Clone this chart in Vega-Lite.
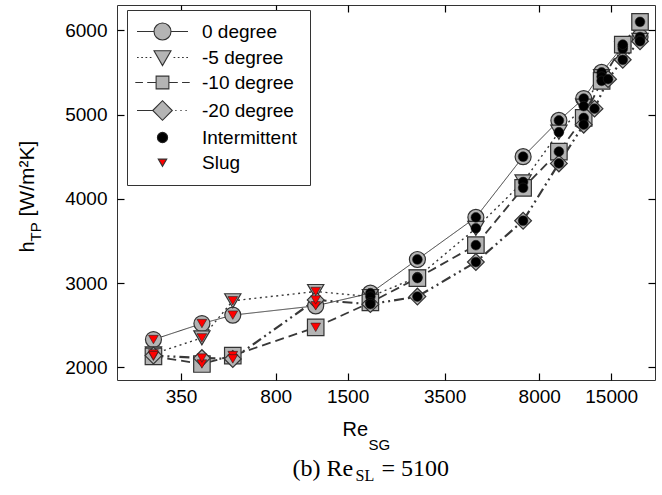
{
  "$schema": "https://vega.github.io/schema/vega-lite/v6.json",
  "width": 538,
  "height": 375,
  "autosize": {"type": "none"},
  "padding": {"left": 117, "top": 5, "right": 7, "bottom": 115},
  "background": "white",
  "config": {
    "view": {"stroke": "#333333", "strokeWidth": 1},
    "font": "Liberation Sans",
    "axis": {
      "grid": false,
      "domain": false,
      "ticks": true,
      "tickColor": "#000000",
      "tickWidth": 1.2,
      "tickSize": 7,
      "tickOpacity": 1,
      "labelFont": "Liberation Sans",
      "labelFontSize": 19,
      "labelColor": "black",
      "titleFont": "Liberation Sans",
      "titleFontSize": 20,
      "titleFontWeight": "normal",
      "titleColor": "black",
      "titleAlign": "left",
      "titleBaseline": "alphabetic",
      "zindex": 1
    }
  },
  "data": {
    "values": [
      {"angle": "0 degree", "re": 275, "h": 2330, "pattern": "Slug"},
      {"angle": "0 degree", "re": 420, "h": 2520, "pattern": "Slug"},
      {"angle": "0 degree", "re": 550, "h": 2620, "pattern": "Slug"},
      {"angle": "0 degree", "re": 1135, "h": 2730, "pattern": "Slug"},
      {"angle": "0 degree", "re": 1830, "h": 2880, "pattern": "Intermittent"},
      {"angle": "0 degree", "re": 2760, "h": 3280, "pattern": "Intermittent"},
      {"angle": "0 degree", "re": 4600, "h": 3780, "pattern": "Intermittent"},
      {"angle": "0 degree", "re": 6950, "h": 4500, "pattern": "Intermittent"},
      {"angle": "0 degree", "re": 9500, "h": 4930, "pattern": "Intermittent"},
      {"angle": "0 degree", "re": 11800, "h": 5190, "pattern": "Intermittent"},
      {"angle": "0 degree", "re": 13800, "h": 5500, "pattern": "Intermittent"},
      {"angle": "0 degree", "re": 16600, "h": 5810, "pattern": "Intermittent"},
      {"angle": "0 degree", "re": 19300, "h": 5920, "pattern": "Intermittent"},

      {"angle": "-5 degree", "re": 275, "h": 2160, "pattern": "Slug"},
      {"angle": "-5 degree", "re": 420, "h": 2350, "pattern": "Slug"},
      {"angle": "-5 degree", "re": 550, "h": 2790, "pattern": "Slug"},
      {"angle": "-5 degree", "re": 1135, "h": 2900, "pattern": "Slug"},
      {"angle": "-5 degree", "re": 1830, "h": 2840, "pattern": "Intermittent"},
      {"angle": "-5 degree", "re": 2760, "h": 3070, "pattern": "Intermittent"},
      {"angle": "-5 degree", "re": 4600, "h": 3650, "pattern": "Intermittent"},
      {"angle": "-5 degree", "re": 6950, "h": 4200, "pattern": "Intermittent"},
      {"angle": "-5 degree", "re": 9500, "h": 4790, "pattern": "Intermittent"},
      {"angle": "-5 degree", "re": 11800, "h": 5100, "pattern": "Intermittent"},
      {"angle": "-5 degree", "re": 13800, "h": 5450, "pattern": "Intermittent"},
      {"angle": "-5 degree", "re": 16600, "h": 5780, "pattern": "Intermittent"},
      {"angle": "-5 degree", "re": 19300, "h": 5880, "pattern": "Intermittent"},

      {"angle": "-10 degree", "re": 275, "h": 2130, "pattern": "Slug"},
      {"angle": "-10 degree", "re": 420, "h": 2040, "pattern": "Slug"},
      {"angle": "-10 degree", "re": 550, "h": 2140, "pattern": "Slug"},
      {"angle": "-10 degree", "re": 1135, "h": 2475, "pattern": "Slug"},
      {"angle": "-10 degree", "re": 1830, "h": 2770, "pattern": "Intermittent"},
      {"angle": "-10 degree", "re": 2760, "h": 3060, "pattern": "Intermittent"},
      {"angle": "-10 degree", "re": 4600, "h": 3450, "pattern": "Intermittent"},
      {"angle": "-10 degree", "re": 6950, "h": 4130, "pattern": "Intermittent"},
      {"angle": "-10 degree", "re": 9500, "h": 4560, "pattern": "Intermittent"},
      {"angle": "-10 degree", "re": 11800, "h": 4960, "pattern": "Intermittent"},
      {"angle": "-10 degree", "re": 13800, "h": 5400, "pattern": "Intermittent"},
      {"angle": "-10 degree", "re": 16600, "h": 5830, "pattern": "Intermittent"},
      {"angle": "-10 degree", "re": 19300, "h": 6100, "pattern": "Intermittent"},

      {"angle": "-20 degree", "re": 275, "h": 2140, "pattern": "Slug"},
      {"angle": "-20 degree", "re": 420, "h": 2110, "pattern": "Slug"},
      {"angle": "-20 degree", "re": 550, "h": 2100, "pattern": "Slug"},
      {"angle": "-20 degree", "re": 1135, "h": 2800, "pattern": "Slug"},
      {"angle": "-20 degree", "re": 1830, "h": 2750, "pattern": "Intermittent"},
      {"angle": "-20 degree", "re": 2760, "h": 2840, "pattern": "Intermittent"},
      {"angle": "-20 degree", "re": 4600, "h": 3250, "pattern": "Intermittent"},
      {"angle": "-20 degree", "re": 6950, "h": 3740, "pattern": "Intermittent"},
      {"angle": "-20 degree", "re": 9500, "h": 4420, "pattern": "Intermittent"},
      {"angle": "-20 degree", "re": 11800, "h": 4880, "pattern": "Intermittent"},
      {"angle": "-20 degree", "re": 12970, "h": 5070, "pattern": "Intermittent"},
      {"angle": "-20 degree", "re": 14600, "h": 5420, "pattern": "Intermittent"},
      {"angle": "-20 degree", "re": 16600, "h": 5650, "pattern": "Intermittent"},
      {"angle": "-20 degree", "re": 19300, "h": 5870, "pattern": "Intermittent"}
    ]
  },
  "layer": [
    {
      "mark": {"type": "line", "color": "#383838"},
      "encoding": {
        "x": {
          "field": "re", "type": "quantitative",
          "scale": {"type": "log", "domain": [200, 22000], "nice": false},
          "axis": {"orient": "bottom", "offset": -7, "values": [350, 800, 1500, 3500, 8000, 15000], "format": "d", "labelPadding": 7, "title": "Re", "titleX": 225, "titleY": 62, "titleAngle": 0}
        },
        "y": {
          "field": "h", "type": "quantitative",
          "scale": {"domain": [1850, 6300], "nice": false, "zero": false},
          "axis": {"orient": "left", "offset": -7, "values": [2000, 3000, 4000, 5000, 6000], "format": "d", "labelPadding": 10, "title": "h", "titleX": -91, "titleY": 247, "titleAngle": 270}
        },
        "strokeDash": {
          "field": "angle", "type": "nominal",
          "scale": {"domain": ["0 degree", "-5 degree", "-10 degree", "-20 degree"], "range": [[1, 0], [2, 3.5], [9, 5], [10, 4, 2, 4, 2, 4]]},
          "legend": null
        },
        "strokeWidth": {
          "field": "angle", "type": "ordinal",
          "scale": {"domain": ["0 degree", "-5 degree", "-10 degree", "-20 degree"], "range": [1, 2.2, 1, 1]},
          "legend": null
        }
      }
    },
    {
      "mark": {"type": "point", "filled": true, "fill": "#b4b4b4", "stroke": "#333333", "strokeWidth": 1.2, "opacity": 1},
      "encoding": {
        "x": {"field": "re", "type": "quantitative", "axis": null},
        "y": {"field": "h", "type": "quantitative", "axis": null},
        "shape": {
          "field": "angle", "type": "nominal",
          "scale": {"domain": ["0 degree", "-5 degree", "-10 degree", "-20 degree"], "range": ["circle", "triangle-down", "square", "diamond"]},
          "legend": null
        },
        "size": {
          "field": "angle", "type": "ordinal",
          "scale": {"domain": ["0 degree", "-5 degree", "-10 degree", "-20 degree"], "range": [256, 280, 225, 340]},
          "legend": null
        }
      }
    },
    {
      "mark": {"type": "point", "filled": true, "size": 95, "stroke": "#222222", "strokeWidth": 0.6, "opacity": 1},
      "encoding": {
        "x": {"field": "re", "type": "quantitative", "axis": null},
        "y": {"field": "h", "type": "quantitative", "axis": null},
        "shape": {
          "field": "pattern", "type": "nominal",
          "scale": {"domain": ["Intermittent", "Slug"], "range": ["circle", "triangle-down"]},
          "legend": null
        },
        "fill": {
          "field": "pattern", "type": "nominal",
          "scale": {"domain": ["Intermittent", "Slug"], "range": ["#000000", "#ff0000"]},
          "legend": null
        }
      }
    },
    {
      "transform": [{"filter": "false"}],
      "mark": {"type": "point", "filled": true, "strokeWidth": 1.1, "opacity": 1},
      "encoding": {
        "x": {
          "field": "re", "type": "quantitative",
          "axis": {"orient": "top", "offset": -7, "values": [350, 800, 1500, 3500, 8000, 15000], "labels": false, "title": null}
        },
        "y": {
          "field": "h", "type": "quantitative",
          "axis": {"orient": "right", "offset": -7, "values": [2000, 3000, 4000, 5000, 6000], "labels": false, "title": null}
        },
        "shape": {
          "field": "angle", "type": "nominal",
          "scale": {
            "domain": ["0 degree", "-5 degree", "-10 degree", "-20 degree", "Intermittent", "Slug"],
            "range": [
              "M-3,0L-1,0M1,0L3,0M1,0A1,1,0,1,1,-1,0A1,1,0,1,1,1,0Z",
              "M-3,0L-2.8,0M-2.5,0L-2.3,0M-2,0L-1.8,0M-1.5,0L-1.3,0M1.3,0L1.5,0M1.8,0L2,0M2.3,0L2.5,0M2.8,0L3,0M-1,-0.8L1,-0.8L0,0.95Z",
              "M-3.2,0L-2.3,0M-1.8,0L-0.75,0M0.75,0L1.8,0M2.3,0L3.2,0M-0.75,-0.75L0.75,-0.75L0.75,0.75L-0.75,0.75Z",
              "M-3,0L-1.15,0M1.5,0L1.65,0M2.1,0L2.25,0M2.7,0L2.85,0M-1.15,0L0,-1.15L1.15,0L0,1.15Z",
              "M0.6,0A0.6,0.6,0,1,1,-0.6,0A0.6,0.6,0,1,1,0.6,0Z",
              "M-0.5,-0.4L0.5,-0.4L0,0.45Z"
            ]
          },
          "legend": {
            "title": null, "orient": "none", "legendX": 10, "legendY": 5,
            "symbolSize": 289, "symbolStrokeWidth": 1.1,
            "symbolOffset": 14, "labelOffset": 30, "padding": 12, "rowPadding": 5,
            "strokeColor": "#333333", "fillColor": "white",
            "labelFont": "Liberation Sans", "labelFontSize": 19, "labelColor": "black"
          }
        },
        "fill": {
          "field": "angle", "type": "nominal",
          "scale": {
            "domain": ["0 degree", "-5 degree", "-10 degree", "-20 degree", "Intermittent", "Slug"],
            "range": ["#b4b4b4", "#b4b4b4", "#b4b4b4", "#b4b4b4", "#000000", "#ff0000"]
          },
          "legend": {
            "title": null, "orient": "none", "legendX": 10, "legendY": 5,
            "symbolSize": 289, "symbolStrokeWidth": 1.1,
            "symbolOffset": 14, "labelOffset": 30, "padding": 12, "rowPadding": 5,
            "strokeColor": "#333333", "fillColor": "white",
            "labelFont": "Liberation Sans", "labelFontSize": 19, "labelColor": "black"
          }
        },
        "stroke": {
          "field": "angle", "type": "nominal",
          "scale": {
            "domain": ["0 degree", "-5 degree", "-10 degree", "-20 degree", "Intermittent", "Slug"],
            "range": ["#333333", "#333333", "#333333", "#333333", "#222222", "#333333"]
          },
          "legend": {
            "title": null, "orient": "none", "legendX": 10, "legendY": 5,
            "symbolSize": 289, "symbolStrokeWidth": 1.1,
            "symbolOffset": 14, "labelOffset": 30, "padding": 12, "rowPadding": 5,
            "strokeColor": "#333333", "fillColor": "white",
            "labelFont": "Liberation Sans", "labelFontSize": 19, "labelColor": "black"
          }
        }
      }
    },
    {
      "transform": [{"filter": "false"}],
      "mark": {"type": "point"},
      "encoding": {
        "x": {
          "field": "re", "type": "quantitative",
          "axis": {"orient": "bottom", "ticks": false, "labels": false, "title": "SG", "titleFontSize": 15, "titleX": 251, "titleY": 69, "titleAngle": 0}
        },
        "y": {
          "field": "h", "type": "quantitative",
          "axis": {"orient": "left", "ticks": false, "labels": false, "title": "TP", "titleFontSize": 15, "titleX": -77, "titleY": 236, "titleAngle": 270}
        }
      }
    },
    {
      "transform": [{"filter": "false"}],
      "mark": {"type": "point"},
      "encoding": {
        "x": {
          "field": "re", "type": "quantitative",
          "axis": {"orient": "bottom", "ticks": false, "labels": false, "title": "(b) Re", "titleFont": "Liberation Serif", "titleFontSize": 24, "titleX": 175, "titleY": 95, "titleAngle": 0}
        },
        "y": {
          "field": "h", "type": "quantitative",
          "axis": {"orient": "left", "ticks": false, "labels": false, "title": "[W/m²K]", "titleFontSize": 21, "titleX": -84, "titleY": 211, "titleAngle": 270}
        }
      }
    },
    {
      "transform": [{"filter": "false"}],
      "mark": {"type": "point"},
      "encoding": {
        "x": {
          "field": "re", "type": "quantitative",
          "axis": {"orient": "bottom", "ticks": false, "labels": false, "title": "SL", "titleFont": "Liberation Serif", "titleFontSize": 16, "titleX": 238, "titleY": 100, "titleAngle": 0}
        },
        "y": {"field": "h", "type": "quantitative", "axis": null}
      }
    },
    {
      "transform": [{"filter": "false"}],
      "mark": {"type": "point"},
      "encoding": {
        "x": {
          "field": "re", "type": "quantitative",
          "axis": {"orient": "bottom", "ticks": false, "labels": false, "title": "= 5100", "titleFont": "Liberation Serif", "titleFontSize": 24, "titleX": 264, "titleY": 95, "titleAngle": 0}
        },
        "y": {"field": "h", "type": "quantitative", "axis": null}
      }
    }
  ],
  "resolve": {
    "scale": {"shape": "independent", "fill": "independent", "stroke": "independent", "size": "independent", "strokeDash": "independent", "strokeWidth": "independent"},
    "axis": {"x": "independent", "y": "independent"},
    "legend": {"shape": "independent", "fill": "independent", "stroke": "independent"}
  }
}
